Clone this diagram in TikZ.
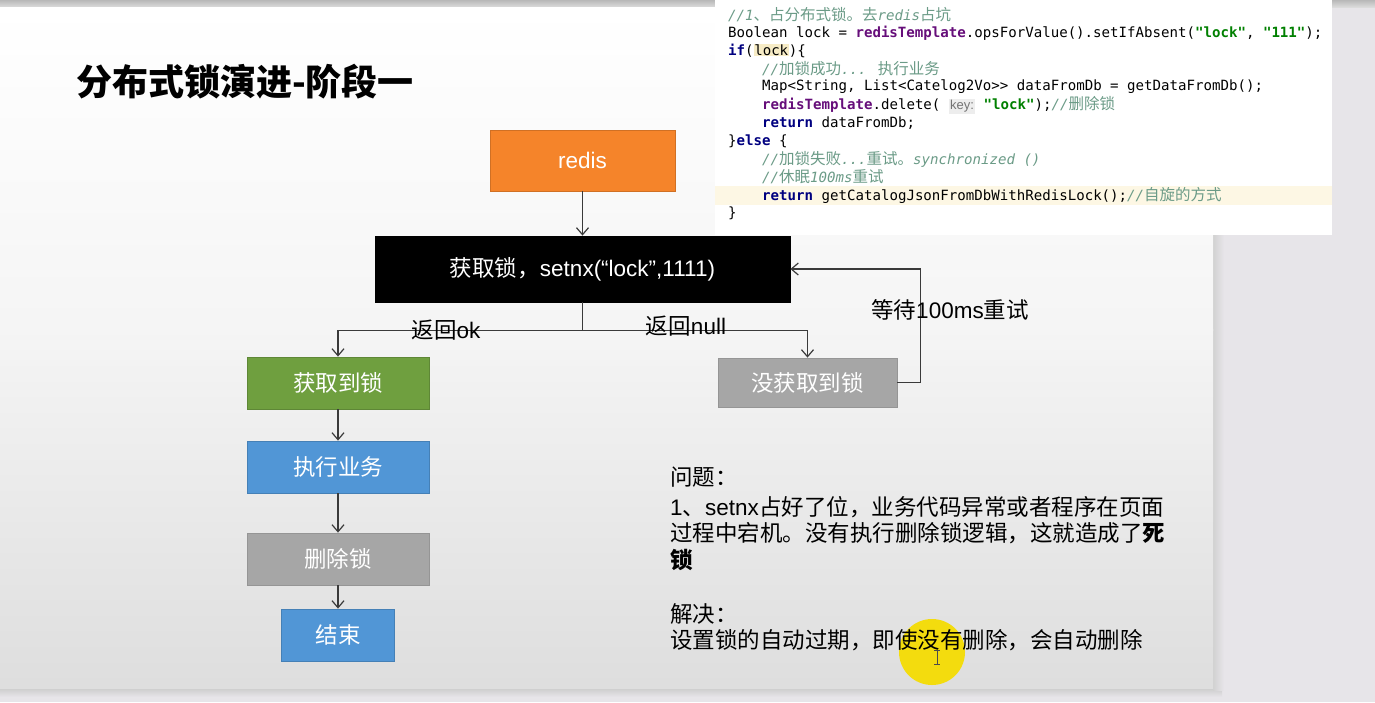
\documentclass[tikz,border=0pt]{standalone}
\usepackage{fontspec}
\setmainfont{Liberation Sans}
\newfontfamily\cjk{Noto Sans CJK SC}
\newfontfamily\codefont{DejaVu Sans Mono}
\usetikzlibrary{arrows.meta}
\definecolor{bgout}{HTML}{E7E5E9}
\definecolor{orng}{HTML}{F5842A}
\definecolor{grn}{HTML}{6F9F3F}
\definecolor{blu}{HTML}{5196D6}
\definecolor{gry}{HTML}{A6A6A6}
\definecolor{kwc}{HTML}{000080}
\definecolor{purp}{HTML}{660E7A}
\definecolor{strc}{HTML}{008000}
\definecolor{cmc}{HTML}{6B9B87}
\definecolor{hintbg}{HTML}{EDEDED}
\definecolor{hlc}{HTML}{F7ECC6}
\definecolor{curline}{HTML}{FDF7E4}
\definecolor{linec}{HTML}{3A3A3A}
\newcommand\zhc[1]{{\cjk\fontsize{15.5}{18}\selectfont #1}}
\newcommand\kw[1]{{\bfseries\color{kwc}#1}}
\newcommand\rtpl[1]{{\bfseries\color{purp}#1}}
\newcommand\strc[1]{{\bfseries\color{strc}#1}}
\newcommand\cmt[1]{{\itshape\color{cmc}#1}}
\newcommand\hint[1]{{\setlength\fboxsep{1.2pt}\colorbox{hintbg}{\rmfamily\fontsize{13}{15}\selectfont\color{black!55}#1}}}
\newcommand\hlbox[1]{{\setlength\fboxsep{0.6pt}\colorbox{hlc}{#1}}}
\begin{document}
\begin{tikzpicture}[x=1pt,y=-1pt,
  flow/.style={inner sep=0pt, text=white, line width=0.8pt,
    font=\cjk\fontsize{22.5}{26}\selectfont},
  arr/.style={draw=linec, line width=1.2pt, -{Straight Barb[length=7pt,width=12pt,line width=1.2pt]}},
  conn/.style={draw=linec, line width=1.2pt},
  lbl/.style={inner sep=0pt, text=black, font=\cjk\fontsize{22.5}{26}\selectfont},
  txt/.style={inner sep=0pt, anchor=west, text=black, font=\cjk\fontsize{22.5}{26}\selectfont},
  code/.style={inner sep=0pt, anchor=west, text=black, font=\codefont\fontsize{14.1}{18}\selectfont}
]
\useasboundingbox (0,0) rectangle (1375,702);
% outer background
\fill[bgout] (0,0) rectangle (1375,702);
% top strip
\shade[top color=black!28, bottom color=black!14] (0,0) rectangle (1375,7);
% bottom shadow
\shade[top color=black!20, bottom color=bgout] (0,688) rectangle (1222,697);
% right shadow
\shade[left color=black!18, right color=bgout] (1213,9) rectangle (1224,690);
% slide (soft vertical gradient)
\shade[top color=white, bottom color=black!4] (0,7) rectangle (1213,330);
\shade[top color=black!4, bottom color=black!13] (0,329.5) rectangle (1213,688);

% code panel
\fill[white] (715,0) rectangle (1332,235);
\fill[curline] (715,186) rectangle (1332,205);

\node[code] (c1) at (728,15) {\cmt{//1\zhc{、占分布式锁。去}redis\zhc{占坑}}};
\node[code] (c2) at (728,33) {Boolean lock = \rtpl{redisTemplate}.opsForValue().setIfAbsent(\strc{"lock"}, \strc{"111"});};
\node[code] (c3) at (728,51) {\kw{if}(\hlbox{lock})\{};
\node[code] (c4) at (762,69) {\cmt{//\zhc{加锁成功}... \zhc{执行业务}}};
\node[code] (c5) at (762,87) {Map<String, List<Catelog2Vo>> dataFromDb = getDataFromDb();};
\node[code] (c6) at (762,105) {\rtpl{redisTemplate}.delete( \hint{key:} \strc{"lock"});\cmt{//\zhc{删除锁}}};
\node[code] (c7) at (762,123) {\kw{return} dataFromDb;};
\node[code] (c8) at (728,141) {\}\kw{else} \{};
\node[code] (c9) at (762,159) {\cmt{//\zhc{加锁失败}...\zhc{重试。}synchronized ()}};
\node[code] (c10) at (762,177) {\cmt{//\zhc{休眠}100ms\zhc{重试}}};
\node[code] (c11) at (762,195) {\kw{return} getCatalogJsonFromDbWithRedisLock();\cmt{//\zhc{自旋的方式}}};
\node[code] (c12) at (728,213) {\}};

% title
\node[inner sep=0pt, anchor=west, font=\cjk\bfseries\fontsize{36}{40}\selectfont] (title) at (76,82) {分布式锁演进-阶段一};

% flow nodes
\node[flow, fill=orng, draw=orng!85!black, minimum width=185pt, minimum height=61pt,
  font=\fontsize{22.5}{26}\selectfont] (redis) at (582.5,160.5) {redis};
\node[flow, fill=black, draw=black, minimum width=415pt, minimum height=66pt,
  font=\fontsize{22.5}{26}\selectfont] (lock) at (582.5,269) {{\cjk 获取锁，}setnx(“lock”,1111)};
\node[flow, fill=grn, draw=grn!85!black, minimum width=182pt, minimum height=52pt] (ok) at (338,383) {获取到锁};
\node[flow, fill=gry, draw=gry!90!black, minimum width=179pt, minimum height=49pt] (nolock) at (807.5,382.5) {没获取到锁};
\node[flow, fill=blu, draw=blu!85!black, minimum width=182pt, minimum height=52pt] (exec) at (338,467) {执行业务};
\node[flow, fill=gry, draw=gry!90!black, minimum width=182pt, minimum height=52pt] (del) at (338,559) {删除锁};
\node[flow, fill=blu, draw=blu!85!black, minimum width=113pt, minimum height=52pt] (end) at (338,635) {结束};

% connectors
\draw[arr] (redis.south) -- (lock.north);
\draw[conn] (lock.south) -- ++(0,28) coordinate (split);
\draw[arr] (split) -| (ok.north);
\draw[arr] (split) -| (nolock.north);
\draw[arr] (nolock.east) -- ++(23,0) |- (lock.east);
\draw[arr] (ok.south) -- (exec.north);
\draw[arr] (exec.south) -- (del.north);
\draw[arr] (del.south) -- (end.north);

% labels
\node[lbl] (lok) at (446,330) {返回{\rmfamily ok}};
\node[lbl] (lnull) at (686,326) {返回{\rmfamily null}};
\node[lbl] (lwait) at (950,310) {等待{\rmfamily 100ms}重试};

% cursor highlight
\fill[yellow!88!orange!95!black] (932,652) circle (33);

% text block
\node[txt] (q0) at (670,477) {问题：};
\node[txt] (q1) at (670,507) {{\rmfamily 1}、{\rmfamily setnx}占好了位，业务代码异常或者程序在页面};
\node[txt] (q2) at (670,533) {过程中宕机。没有执行删除锁逻辑，这就造成了\textbf{死}};
\node[txt] (q3) at (670,560) {\textbf{锁}};
\node[txt] (q4) at (670,614) {解决：};
\node[txt] (q5) at (670,640) {设置锁的自动过期，即使没有删除，会自动删除};

% I-beam cursor
\draw[black!70, line width=1pt] (937,650) -- (937,664);
\draw[black!70, line width=1pt] (934,650) -- (940,650) (934,664) -- (940,664);
\end{tikzpicture}
\end{document}
